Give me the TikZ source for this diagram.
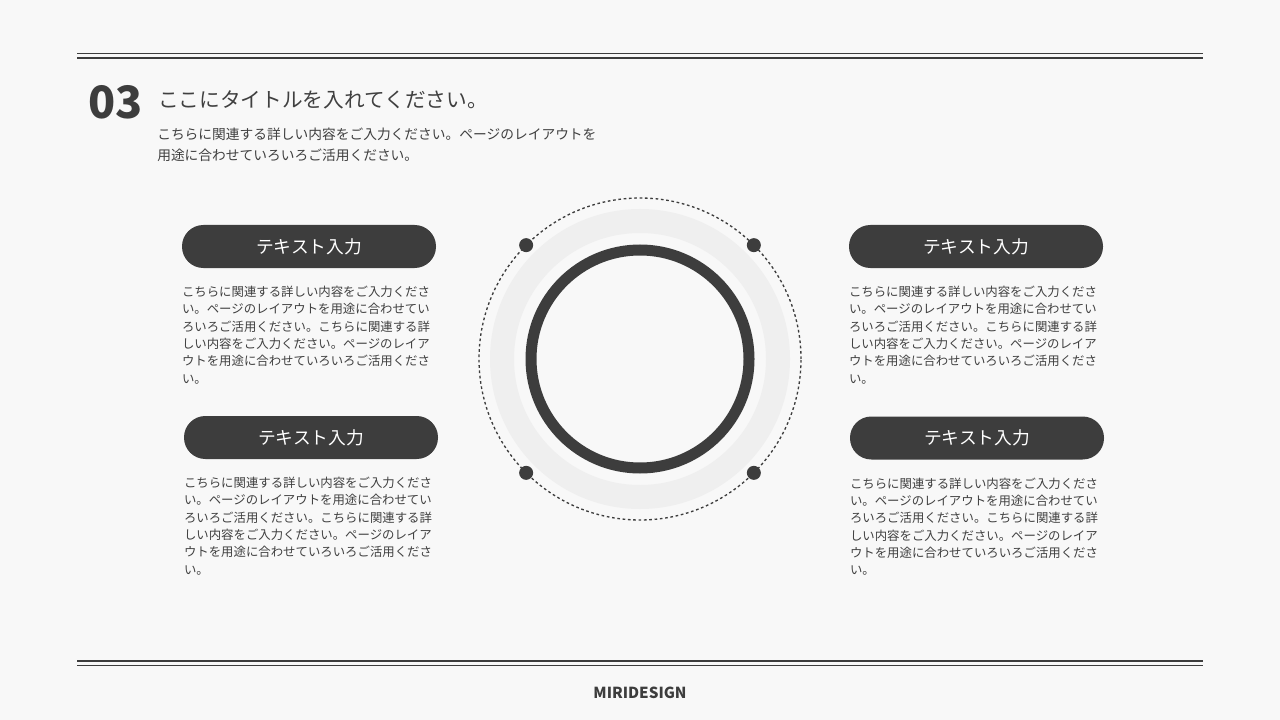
\documentclass[tikz,border=0pt]{standalone}
\usepackage{fontspec}
\setmainfont{Noto Sans CJK JP}
\usepackage{xcolor}
\usetikzlibrary{positioning}
\definecolor{ink}{HTML}{3D3D3D}
\definecolor{paper}{HTML}{F8F8F8}
\definecolor{ringgray}{HTML}{EFEFEF}
\definecolor{txt}{HTML}{404040}

\newcommand{\bodytext}{こちらに関連する詳しい内容をご入力くださ\\い。ページのレイアウトを用途に合わせてい\\ろいろご活用ください。こちらに関連する詳\\しい内容をご入力ください。ページのレイア\\ウトを用途に合わせていろいろご活用くださ\\い。}

\begin{document}
\begin{tikzpicture}[x=0.75pt, y=-0.75pt, text=txt]
    \tikzstyle{pill}=[fill=ink, rounded corners=16pt, minimum width=190.5pt, minimum height=32.25pt, inner sep=0pt, text=white, font=\fontsize{13.3}{16}\selectfont]
    \tikzstyle{body}=[inner sep=0pt, align=left, text=txt, font=\fontsize{9.3}{13}\selectfont]
    \tikzstyle{dot}=[circle, fill=ink, minimum size=10.5pt, inner sep=0pt]

    \useasboundingbox[fill=paper] (0,0) rectangle (1280,720);

    % header and footer rules
    \draw[ink, line width=1.1pt] (77,53.5) -- (1203,53.5);
    \draw[ink, line width=2pt] (77,58) -- (1203,58);
    \draw[ink, line width=2pt] (77,661) -- (1203,661);
    \draw[ink, line width=1.1pt] (77,665.5) -- (1203,665.5);

    % title block
    \node[anchor=base west, inner sep=0pt, text=ink, font=\fontsize{33.5}{34}\selectfont\bfseries] (num) at (88,119) {03};
    \node[anchor=base west, inner sep=0pt, font=\fontsize{15.5}{18}\selectfont] (title) at (158,108) {ここにタイトルを入れてください。};
    \node[anchor=north west, inner sep=0pt, align=left, font=\fontsize{10.3}{15.75}\selectfont] (lead) at (157,127.5) {こちらに関連する詳しい内容をご入力ください。ページのレイアウトを\\用途に合わせていろいろご活用ください。};

    % centre rings
    \coordinate (hub) at (640,359);
    \draw[ringgray, line width=18pt] (hub) circle[radius=103.5pt];
    \draw[ink, line width=8.25pt] (hub) circle[radius=81.75pt];
    \draw[ink, line width=1pt, dash pattern=on 2pt off 2pt] (hub) circle[radius=120.75pt];
    \foreach \a in {45,135,225,315}
        \node[dot] (dot\a) at ([shift={(\a:120.75pt)}]hub) {};

    % four items
    \node[pill] (pillLT) at (309,246.5) {テキスト入力};
    \node[pill] (pillLB) at (311,437.5) {テキスト入力};
    \node[pill] (pillRT) at (976,246.5) {テキスト入力};
    \node[pill] (pillRB) at (977,438) {テキスト入力};

    \node[body, below=13.2pt of pillLT.south west, anchor=north west] (bodyLT) {\bodytext};
    \node[body, below=13.2pt of pillLB.south west, anchor=north west] (bodyLB) {\bodytext};
    \node[body, below=13.2pt of pillRT.south west, anchor=north west] (bodyRT) {\bodytext};
    \node[body, below=13.2pt of pillRB.south west, anchor=north west] (bodyRB) {\bodytext};

    % footer
    \node[anchor=base, inner sep=0pt, text=ink, font=\fontsize{11.4}{12}\selectfont\bfseries] (brand) at (640,698) {MIRIDESIGN};
\end{tikzpicture}
\end{document}
